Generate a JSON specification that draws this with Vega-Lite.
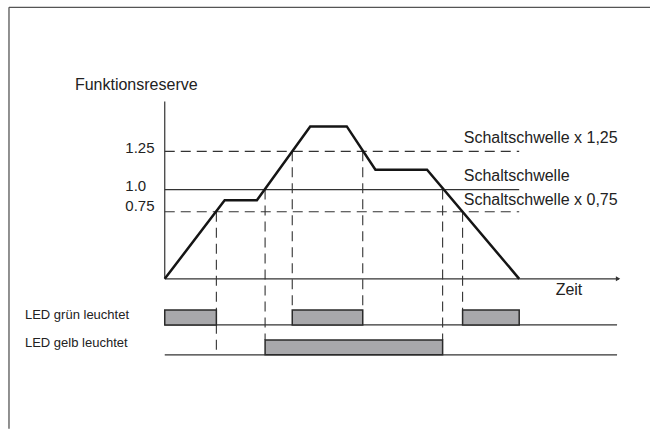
{
  "$schema": "https://vega.github.io/schema/vega-lite/v6.json",
  "autosize": {"type": "fit", "contains": "padding"},
  "width": 651,
  "height": 430,
  "padding": 0,
  "background": "white",
  "config": {"view": {"stroke": null}},
  "datasets": {
    "kurve": [
      {"x": 0, "y": 0}, {"x": 6.0, "y": 0.88}, {"x": 9.23, "y": 0.88}, {"x": 14.57, "y": 1.707},
      {"x": 18.23, "y": 1.707}, {"x": 21.1, "y": 1.223}, {"x": 26.27, "y": 1.223}, {"x": 35.5, "y": 0}
    ],
    "rahmen": [
      {"x": -15.6, "y": 3.041, "x2": -15.6, "y2": -1.68},
      {"x": -15.6, "y": 3.041, "x2": 48.6, "y2": 3.041}
    ],
    "durchgezogen": [
      {"x": 0, "y": 0, "x2": 0, "y2": 1.987},
      {"x": 0, "y": 0, "x2": 45.5, "y2": 0},
      {"x": 0, "y": 1.0, "x2": 35.5, "y2": 1.0},
      {"x": 0, "y": -0.516, "x2": 45.3, "y2": -0.516},
      {"x": 0, "y": -0.851, "x2": 45.3, "y2": -0.851}
    ],
    "gestrichelt": [
      {"x": 0, "y": 1.428, "x2": 35.5, "y2": 1.428},
      {"x": 0, "y": 0.752, "x2": 35.5, "y2": 0.752},
      {"x": 5.17, "y": 0.752, "x2": 5.17, "y2": -0.851},
      {"x": 10.05, "y": 1.0, "x2": 10.05, "y2": -0.684},
      {"x": 12.77, "y": 1.428, "x2": 12.77, "y2": -0.349},
      {"x": 19.83, "y": 1.428, "x2": 19.83, "y2": -0.349},
      {"x": 27.83, "y": 1.0, "x2": 27.83, "y2": -0.684},
      {"x": 29.83, "y": 0.752, "x2": 29.83, "y2": -0.349}
    ],
    "balken": [
      {"x": 0, "x2": 5.17, "y": -0.516, "y2": -0.349},
      {"x": 12.77, "x2": 19.83, "y": -0.516, "y2": -0.349},
      {"x": 29.83, "x2": 35.5, "y": -0.516, "y2": -0.349},
      {"x": 10.05, "x2": 27.83, "y": -0.851, "y2": -0.684}
    ],
    "pfeil": [{"x": 45.4, "y": 0}],
    "texte": [
      {"x": -9.0, "y": 2.173, "text": "Funktionsreserve", "size": 16},
      {"x": -3.95, "y": 1.466, "text": "1.25", "size": 15},
      {"x": -3.95, "y": 1.045, "text": "1.0", "size": 15},
      {"x": -3.95, "y": 0.813, "text": "0.75", "size": 15},
      {"x": 29.95, "y": 1.578, "text": "Schaltschwelle x 1,25", "size": 16},
      {"x": 29.95, "y": 1.156, "text": "Schaltschwelle", "size": 16},
      {"x": 29.95, "y": 0.888, "text": "Schaltschwelle x 0,75", "size": 16},
      {"x": 39.15, "y": -0.128, "text": "Zeit", "size": 16},
      {"x": -14.0, "y": -0.41, "text": "LED grün leuchtet", "size": 13},
      {"x": -14.0, "y": -0.72, "text": "LED gelb leuchtet", "size": 13}
    ]
  },
  "encoding": {
    "x": {"field": "x", "type": "quantitative", "axis": null, "scale": {"domain": [-16.5, 48.6], "nice": false, "zero": false}},
    "y": {"field": "y", "type": "quantitative", "axis": null, "scale": {"domain": [-1.682, 3.123], "nice": false, "zero": false}}
  },
  "layer": [
    {
      "data": {"name": "rahmen"},
      "mark": {"type": "rule", "color": "#555555", "strokeWidth": 1.3},
      "encoding": {"x2": {"field": "x2"}, "y2": {"field": "y2"}}
    },
    {
      "data": {"name": "durchgezogen"},
      "mark": {"type": "rule", "color": "#333333", "strokeWidth": 1.2},
      "encoding": {"x2": {"field": "x2"}, "y2": {"field": "y2"}}
    },
    {
      "data": {"name": "gestrichelt"},
      "mark": {"type": "rule", "color": "#333333", "strokeWidth": 1.1, "strokeDash": [10, 6]},
      "encoding": {"x2": {"field": "x2"}, "y2": {"field": "y2"}}
    },
    {
      "data": {"name": "balken"},
      "mark": {"type": "rect", "fill": "#a8a8ab", "stroke": "#2a2a2a", "strokeWidth": 1.5},
      "encoding": {"x2": {"field": "x2"}, "y2": {"field": "y2"}}
    },
    {
      "data": {"name": "pfeil"},
      "mark": {"type": "point", "shape": "triangle-right", "filled": true, "color": "#333333", "size": 25, "opacity": 1}
    },
    {
      "data": {"name": "kurve"},
      "mark": {"type": "line", "color": "#151515", "strokeWidth": 2.5, "strokeJoin": "miter"},
      "encoding": {}
    },
    {
      "data": {"name": "texte"},
      "mark": {"type": "text", "align": "left", "baseline": "middle", "font": "Liberation Sans", "color": "#222222"},
      "encoding": {"text": {"field": "text"}, "size": {"field": "size", "type": "quantitative", "scale": null}}
    }
  ]
}
